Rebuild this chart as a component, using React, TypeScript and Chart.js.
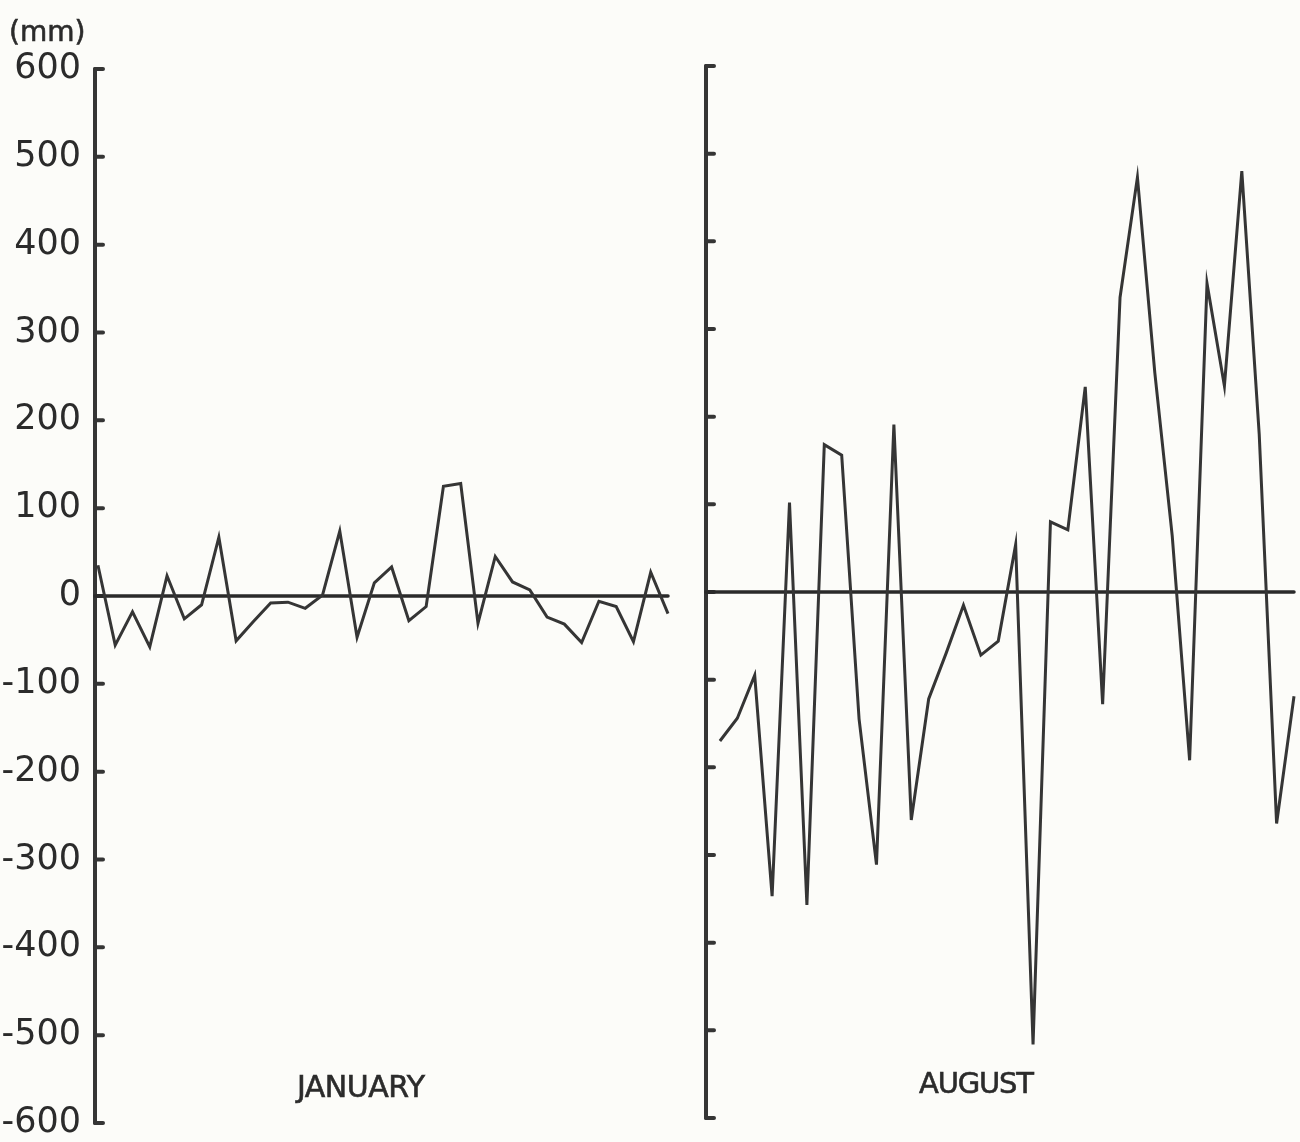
import React, { useEffect, useRef } from "react";
import { Chart, registerables } from "chart.js";

Chart.register(...registerables);

// ---- data ----
const yTickValues = [600, 500, 400, 300, 200, 100, 0, -100, -200, -300, -400, -500, -600];

const januaryValues = [
  35, -56, -18, -58, 23, -26, -10, 67, -51, -29, -8, -7, -14, 1, 74, -47, 15, 33,
  -28, -12, 125, 128, -31, 45, 16, 7, -24, -32, -53, -6, -12, -52, 27, -20,
];

const augustValues = [
  -170, -144, -95, -347, 102, -357, 168, 156, -145, -311, 191, -260, -122, -70, -15,
  -72, -56, 54, -516, 80, 71, 234, -128, 336, 473, 250, 64, -192, 352, 235, 480, 180,
  -264, -119,
];

const panelTitles = ["JANUARY", "AUGUST"];
const unitLabel = "(mm)";

const INK = "#353535";
const FONT = "'DejaVu Sans', sans-serif";

const axisPlugin = {
  id: "customAxis",
  beforeDatasetsDraw(chart: any) {
    const { ctx } = chart;
    const x = chart.scales.x;
    const y = chart.scales.y;
    const ax = x.getPixelForValue(x.min);
    ctx.save();
    ctx.strokeStyle = INK;
    ctx.lineCap = "round";
    ctx.lineJoin = "round";
    ctx.lineWidth = 4;
    ctx.beginPath();
    ctx.moveTo(ax, y.getPixelForValue(600));
    ctx.lineTo(ax, y.getPixelForValue(-600));
    ctx.stroke();
    ctx.beginPath();
    yTickValues.forEach((v) => {
      const py = y.getPixelForValue(v);
      ctx.moveTo(ax, py);
      ctx.lineTo(ax + 8, py);
    });
    ctx.stroke();
    ctx.lineWidth = 3.5;
    ctx.strokeStyle = "#2a2a2a";
    ctx.beginPath();
    ctx.moveTo(ax, y.getPixelForValue(0));
    ctx.lineTo(x.getPixelForValue(x.max), y.getPixelForValue(0));
    ctx.stroke();
    ctx.restore();
  },
};

function makeChart(
  canvas: HTMLCanvasElement,
  values: number[],
  xMin: number,
  padding: { left: number; right: number; top: number; bottom: number },
  showLabels: boolean,
  yWidth: number
) {
  return new Chart(canvas, {
    type: "line",
    data: {
      datasets: [
        {
          data: values.map((v, i) => ({ x: i, y: v })),
          borderColor: INK,
          borderWidth: 3,
          pointRadius: 0,
          tension: 0,
          fill: false,
          clip: false as any,
        },
      ],
    },
    options: {
      animation: false,
      responsive: false,
      events: [],
      layout: { padding },
      plugins: { legend: { display: false }, tooltip: { enabled: false }, title: { display: false } },
      scales: {
        x: {
          type: "linear",
          display: false,
          min: xMin,
          max: values.length - 1,
        },
        y: {
          type: "linear",
          min: -600,
          max: 600,
          display: true,
          grid: { display: false, drawTicks: false },
          border: { display: false },
          afterBuildTicks: (s: any) => {
            s.ticks = yTickValues.map((v) => ({ value: v }));
          },
          afterFit: (s: any) => {
            s.width = yWidth;
            s.paddingTop = 0;
            s.paddingBottom = 0;
          },
          ticks: {
            display: showLabels,
            autoSkip: false,
            padding: 14,
            color: "#2b2b2b",
            font: { family: FONT, size: 35 },
            callback: (v: any) => String(v),
          },
        },
      },
    },
    plugins: [axisPlugin],
  });
}

export default function App() {
  const leftRef = useRef<HTMLCanvasElement>(null);
  const rightRef = useRef<HTMLCanvasElement>(null);

  useEffect(() => {
    const c1 = makeChart(leftRef.current!, januaryValues, -0.17, { left: 0, right: 22, top: 69, bottom: 19 }, true, 95);
    const c2 = makeChart(rightRef.current!, augustValues, -0.8, { left: 16, right: 6, top: 66, bottom: 24 }, false, 0);
    return () => {
      c1.destroy();
      c2.destroy();
    };
  }, []);

  const textStyle: React.CSSProperties = {
    position: "absolute",
    fontFamily: FONT,
    color: "#2b2b2b",
    whiteSpace: "nowrap",
    lineHeight: 1,
    WebkitTextStroke: "0.6px #2b2b2b",
  };

  return (
    <div
      style={{
        position: "fixed",
        left: 0,
        top: 0,
        width: 1300,
        height: 1142,
        background: "#fcfcf9",
        overflow: "hidden",
      }}
    >
      <canvas ref={leftRef} width={690} height={1142} style={{ position: "absolute", left: 0, top: 0, width: 690, height: 1142 }} />
      <canvas ref={rightRef} width={610} height={1142} style={{ position: "absolute", left: 690, top: 0, width: 610, height: 1142 }} />
      <div style={{ ...textStyle, left: 9, top: 18, fontSize: 28 }}>{unitLabel}</div>
      <div style={{ ...textStyle, left: 297, top: 1072, fontSize: 30, letterSpacing: -0.5 }}>{panelTitles[0]}</div>
      <div style={{ ...textStyle, left: 919, top: 1069, fontSize: 29, letterSpacing: -1.2 }}>{panelTitles[1]}</div>
    </div>
  );
}
